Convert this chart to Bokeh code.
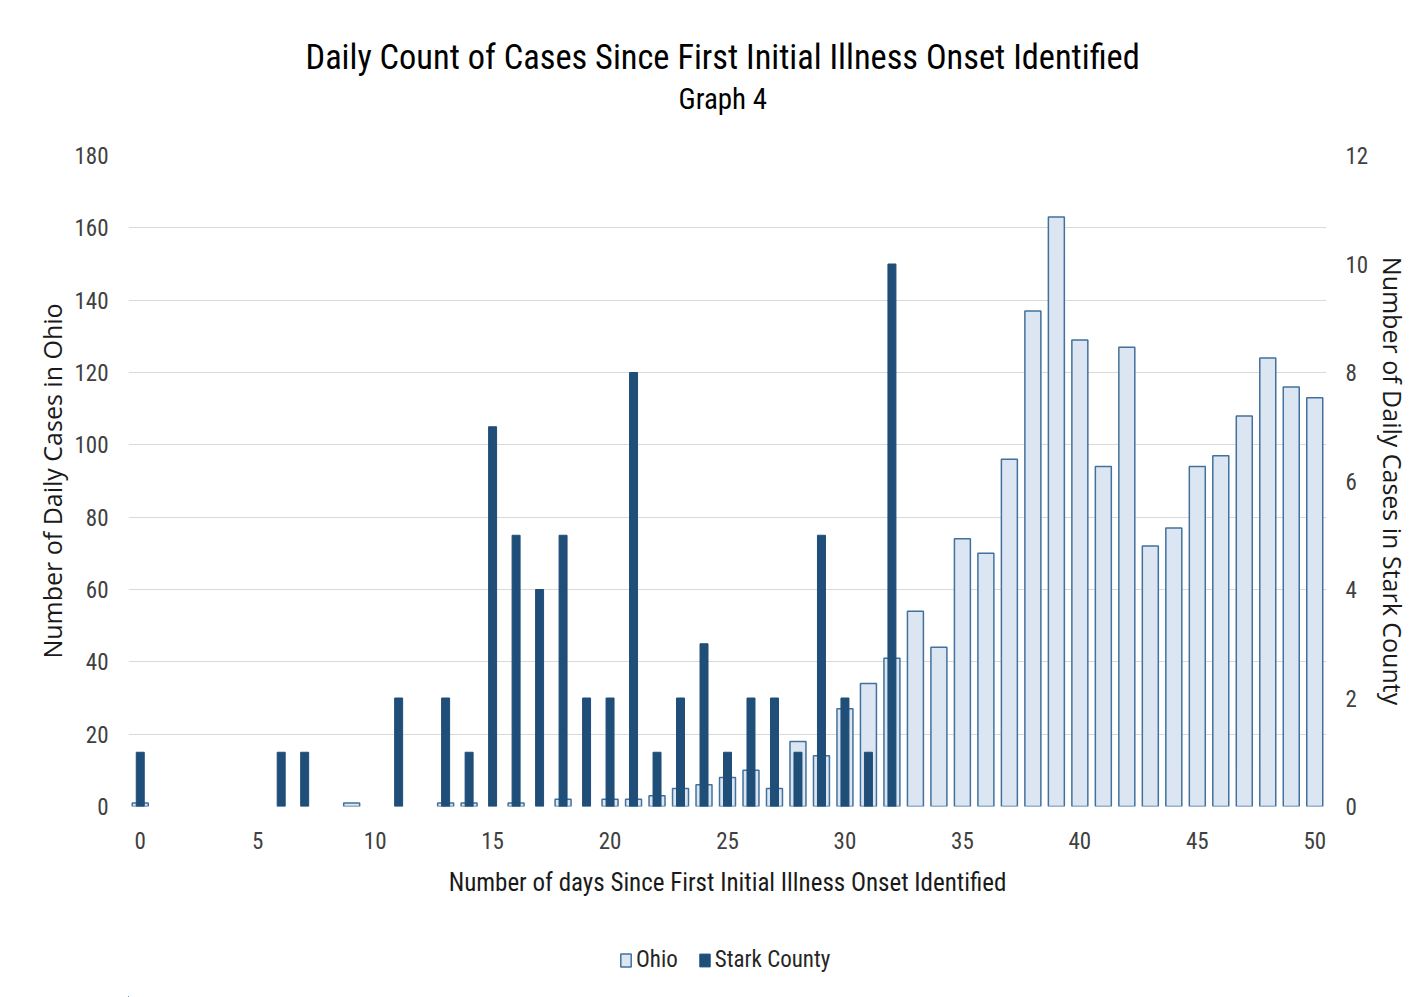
from bokeh.plotting import figure
from bokeh.layouts import column
from bokeh.models import (Range1d, LinearAxis, Legend, LegendItem, Title,
                          FixedTicker, ColumnDataSource, BoxAnnotation)
from bokeh.embed import file_html
from bokeh.resources import INLINE

days = list(range(51))
ohio = [1, 0, 0, 0, 0, 0, 0, 0, 0, 1,
        0, 0, 0, 1, 1, 0, 1, 0, 2, 0,
        2, 2, 3, 5, 6, 8, 10, 5, 18, 14,
        27, 34, 41, 54, 44, 74, 70, 96, 137, 163,
        129, 94, 127, 72, 77, 94, 97, 108, 124, 116,
        113]
stark = [1, 0, 0, 0, 0, 0, 1, 1, 0, 0,
         0, 2, 0, 2, 1, 7, 5, 4, 5, 2,
         2, 8, 1, 2, 3, 1, 2, 2, 1, 5,
         2, 1, 10, 0, 0, 0, 0, 0, 0, 0,
         0, 0, 0, 0, 0, 0, 0, 0, 0, 0,
         0]
x_ticks = [0, 5, 10, 15, 20, 25, 30, 35, 40, 45, 50]
left_ticks = [0, 20, 40, 60, 80, 100, 120, 140, 160, 180]
right_ticks = [0, 2, 4, 6, 8, 10, 12]

COND = "Roboto Condensed"
WIDE = "Open Sans"
OHIO_FILL = "#dce6f2"
OHIO_LINE = "#41719c"
STARK = "#1f4e79"

ohio_src = ColumnDataSource(dict(x=[d for d, v in zip(days, ohio) if v > 0],
                                 top=[v for v in ohio if v > 0]))
stark_src = ColumnDataSource(dict(x=[d for d, v in zip(days, stark) if v > 0],
                                  top=[v for v in stark if v > 0]))

p = figure(width=1428, height=940, output_backend="svg", toolbar_location=None,
           x_range=Range1d(-0.5, 50.5), y_range=Range1d(0, 180),
           min_border_left=128, min_border_right=102, min_border_top=155,
           min_border_bottom=134, title=None)
p.extra_y_ranges = {"stark": Range1d(0, 12)}
p.outline_line_color = None
p.background_fill_color = "white"
p.border_fill_color = "white"

r_ohio = p.vbar(x="x", top="top", width=0.68, source=ohio_src,
                fill_color=OHIO_FILL, line_color=OHIO_LINE, line_width=1.5)
r_stark = p.vbar(x="x", top="top", width=0.34, source=stark_src,
                 y_range_name="stark", fill_color=STARK,
                 line_color=STARK, line_width=1)

p.xgrid.visible = False
p.ygrid.grid_line_color = "#d9d9d9"
p.ygrid.grid_line_width = 1
p.ygrid.ticker = FixedTicker(ticks=left_ticks)

def style_axis(ax, standoff, label_standoff, label_font, label_size):
    ax.axis_line_color = None
    ax.major_tick_line_color = None
    ax.minor_tick_line_color = None
    ax.major_tick_out = 0
    ax.major_tick_in = 0
    ax.major_label_text_font = COND
    ax.major_label_text_font_size = "23px"
    ax.major_label_text_color = "#404040"
    ax.major_label_standoff = standoff
    ax.axis_label_text_font = label_font
    ax.axis_label_text_font_size = label_size
    ax.axis_label_text_font_style = "normal"
    ax.axis_label_text_color = "#1a1a1a"
    ax.axis_label_standoff = label_standoff

xa = p.xaxis[0]
xa.ticker = FixedTicker(ticks=x_ticks)
xa.axis_label = "Number of days Since First Initial Illness Onset Identified"
style_axis(xa, 25, 16, COND, "25px")

ya = p.yaxis[0]
ya.ticker = FixedTicker(ticks=left_ticks)
ya.axis_label = "Number of Daily Cases in Ohio"
style_axis(ya, 20, 2, WIDE, "25px")

ra = LinearAxis(y_range_name="stark", ticker=FixedTicker(ticks=right_ticks),
                axis_label="Number of Daily Cases in Stark County")
style_axis(ra, 19, 5, WIDE, "25px")
p.add_layout(ra, "right")

spacer = Title(text=" ", text_font=COND, text_font_size="10px", standoff=27)
sub = Title(text="Graph 4", align="left", offset=550, text_font=COND,
            text_font_size="29px", text_font_style="normal",
            text_color="#000000", standoff=0)
main = Title(text="Daily Count of Cases Since First Initial Illness Onset Identified",
             align="left", offset=177, text_font=COND, text_font_size="34.4px",
             text_font_style="normal", text_color="#000000", standoff=5)
p.add_layout(spacer, "above")
p.add_layout(sub, "above")
p.add_layout(main, "above")

# legend row: same sources, ranges placed so the data lie off the lower-left corner
leg = figure(width=1428, height=57, output_backend="svg", toolbar_location=None,
             x_range=Range1d(100, 101), y_range=Range1d(500, 501), min_border=0,
             x_axis_location=None, y_axis_location=None, title=None)
leg.grid.visible = False
leg.outline_line_color = None
leg.border_fill_color = "white"
leg.background_fill_color = "white"
lo = leg.vbar(x="x", top="top", width=0.68, source=ohio_src,
              fill_color=OHIO_FILL, line_color=OHIO_LINE, line_width=1.5)
ls = leg.vbar(x="x", top="top", width=0.34, source=stark_src,
              fill_color=STARK, line_color=STARK)
leg.add_layout(BoxAnnotation(fill_color="white", fill_alpha=1.0,
                             line_color=None, line_alpha=0))
legend = Legend(items=[LegendItem(label="Ohio", renderers=[lo]),
                       LegendItem(label="Stark County", renderers=[ls])],
                orientation="horizontal", location=(491, 24),
                border_line_color=None, background_fill_alpha=0,
                label_text_font=COND, label_text_font_size="23px",
                label_text_color="#262626", glyph_width=13, glyph_height=16,
                spacing=20, label_standoff=4, margin=0, padding=0)
leg.add_layout(legend, "center")

layout = column(p, leg, spacing=0)
open("out.html", "w").write(file_html(layout, INLINE))
